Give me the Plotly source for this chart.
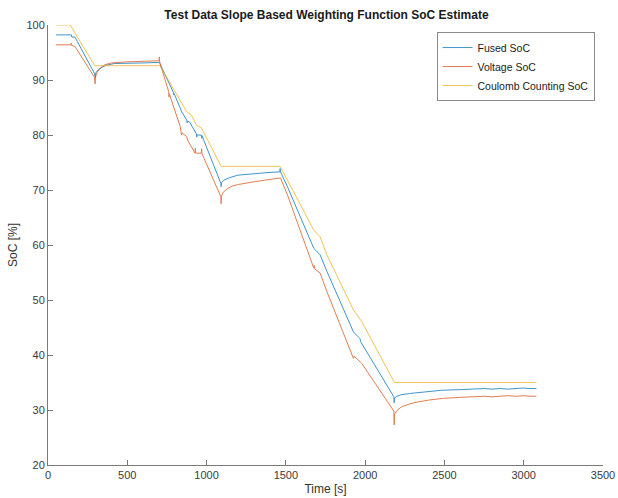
import plotly.graph_objects as go

# Time stamps [s] and SoC estimates [%] for each estimator
fused_t = [50, 148, 150, 170, 293, 298, 301, 315, 340, 370, 420, 500, 600, 700, 705,
           790, 793, 796, 844, 875, 878, 880, 892, 917, 936, 938, 940, 967, 969, 971,
           1090, 1092, 1094, 1110, 1140, 1198, 1300, 1400, 1462, 1464, 1466,
           1510, 1676, 1690, 1716, 1759, 1926, 1960, 1967, 1972,
           2181, 2183, 2186, 2200, 2230, 2280, 2321, 2400, 2487, 2600, 2695,
           2750, 2800, 2850, 2900, 2950, 3000, 3040, 3080]
fused_soc = [98.2, 98.2, 97.8, 97.8, 91.2, 90.5, 91.3, 91.8, 92.3, 92.7, 93.0, 93.1, 93.1, 93.2, 93.0,
             87.8, 87.3, 87.5, 84.2, 82.7, 82.2, 82.5, 82.4, 81.2, 80.2, 79.6, 80.0, 80.0, 79.4, 79.9,
             71.2, 70.6, 71.3, 71.8, 72.2, 72.7, 73.0, 73.2, 73.3, 73.9, 73.3,
             70.6, 59.4, 59.0, 58.2, 55.2, 44.2, 43.2, 43.0, 42.4,
             32.4, 31.3, 32.2, 32.5, 32.8, 33.0, 33.1, 33.4, 33.6, 33.7, 33.8,
             33.9, 33.8, 33.9, 33.8, 33.9, 34.0, 33.9, 33.9]

voltage_t = [50, 145, 147, 149, 170, 293, 297, 300, 310, 330, 360, 400, 500, 600, 700, 702, 704,
             761, 763, 765, 834, 838, 842, 845, 875, 880, 927, 929, 931, 967, 969, 971,
             1090, 1092, 1094, 1105, 1130, 1160, 1200, 1300, 1400, 1462, 1466,
             1510, 1676, 1678, 1680, 1716, 1759, 1926, 1930, 1978,
             2181, 2183, 2186, 2200, 2230, 2280, 2321, 2400, 2487, 2600, 2695,
             2750, 2800, 2850, 2900, 2950, 3000, 3040, 3080]
voltage_soc = [96.4, 96.4, 96.7, 96.3, 96.1, 90.5, 89.3, 90.6, 91.4, 92.2, 92.8, 93.1, 93.3, 93.4, 93.5, 94.2, 93.3,
               87.9, 86.9, 87.5, 81.5, 80.6, 80.0, 80.4, 79.7, 79.1, 76.7, 77.6, 76.7, 76.7, 77.5, 76.6,
               68.8, 67.5, 68.9, 69.6, 70.2, 70.7, 71.0, 71.5, 71.9, 72.1, 72.2,
               69.1, 55.8, 56.3, 55.7, 54.9, 51.5, 39.4, 39.8, 38.5,
               29.8, 27.3, 29.3, 29.9, 30.6, 31.1, 31.4, 31.8, 32.1, 32.3, 32.4,
               32.5, 32.4, 32.5, 32.6, 32.5, 32.6, 32.5, 32.5]

coulomb_t = [50, 140, 295, 705, 765, 873, 905, 936, 967, 1092, 1464, 1676, 1716, 1759,
             1926, 1978, 2185, 3080]
coulomb_soc = [100, 100, 92.6, 92.6, 89.7, 84.3, 83.6, 81.8, 81.3, 74.3, 74.3, 62.7, 61.5, 58.2,
               48.2, 46.1, 35.0, 35.0]

series_names = ["Fused SoC", "Voltage SoC", "Coulomb Counting SoC"]
series_colors = ["#0072BD", "#D95319", "#EDB120"]

x_ticks = [0, 500, 1000, 1500, 2000, 2500, 3000, 3500]
y_ticks = [20, 30, 40, 50, 60, 70, 80, 90, 100]

fig = go.Figure()
for name, color, t, soc in zip(series_names, series_colors,
                               [fused_t, voltage_t, coulomb_t],
                               [fused_soc, voltage_soc, coulomb_soc]):
    fig.add_trace(go.Scatter(x=t, y=soc, mode="lines", name=name, opacity=0.75,
                             line=dict(color=color, width=1)))

axis_color = "#7a7a7a"
tick_font = dict(family="Liberation Sans, Arial, sans-serif", size=11, color="#3a3a3a")

fig.update_layout(
    width=618, height=498,
    margin=dict(l=48, r=15, t=25, b=33),
    paper_bgcolor="white", plot_bgcolor="white",
    font=dict(family="Liberation Sans, Arial, sans-serif", size=11, color="#333333"),
    title=dict(text="<b>Test Data Slope Based Weighting Function SoC Estimate</b>",
               x=(48 + 605) / 2 / 618, xanchor="center", y=1 - 15 / 498, yanchor="middle",
               font=dict(size=12, color="#1a1a1a")),
    xaxis=dict(range=[0, 3500], tickvals=x_ticks, ticks="inside", ticklen=5,
               tickcolor=axis_color, showline=True, linecolor=axis_color, linewidth=1,
               showgrid=False, zeroline=False, tickfont=tick_font,
               ticklabeloverflow="allow", automargin=False,
               title=dict(text="Time [s]", standoff=4, font=dict(size=12))),
    yaxis=dict(range=[20, 100], tickvals=y_ticks, ticks="inside", ticklen=5,
               tickcolor=axis_color, showline=True, linecolor=axis_color, linewidth=1,
               showgrid=False, zeroline=False, tickfont=tick_font, automargin=False,
               title=dict(text="SoC [%]", standoff=6, font=dict(size=12))),
    legend=dict(x=0.7, y=0.984, xanchor="left", yanchor="top",
                bgcolor="white", bordercolor="#8a8a8a", borderwidth=1,
                font=dict(size=10.5, color="#1a1a1a"), itemwidth=30,
                tracegroupgap=0),
    showlegend=True,
)

fig.write_html("out.html")
